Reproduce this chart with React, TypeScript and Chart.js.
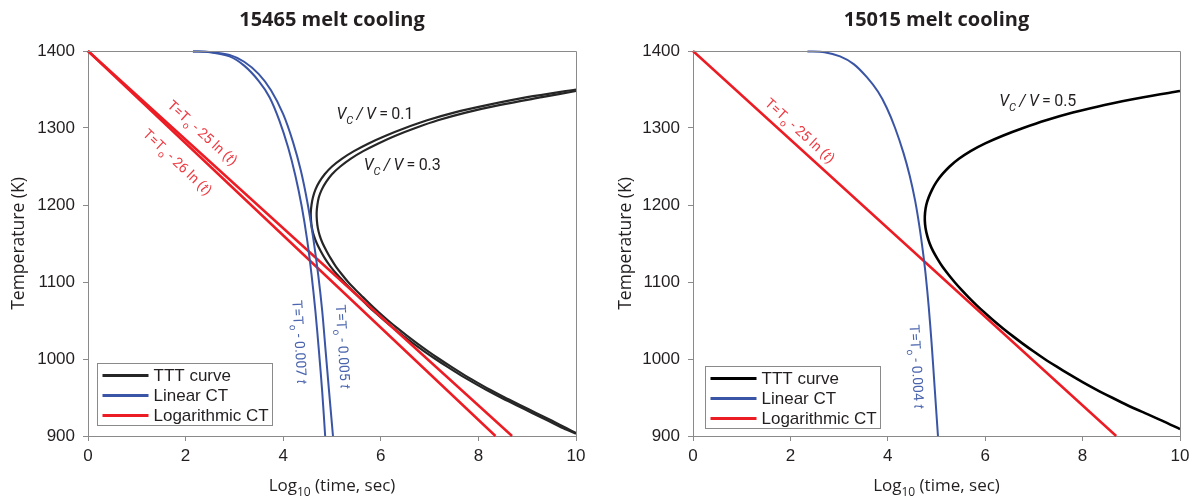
import React, { useEffect, useRef } from 'react';
import { Chart, registerables } from 'chart.js';
Chart.register(...registerables);

// ---------- tick labels ----------
const xTicks = [0, 2, 4, 6, 8, 10];
const yTicks = [900, 1000, 1100, 1200, 1300, 1400];
const legendLabels = ['TTT curve', 'Linear CT', 'Logarithmic CT'];

// ---------- left panel (15465): [log10 t, T] ----------
const left_ttt_01: [number, number][] = [
  [10, 1350], [9.0, 1340], [8.2, 1330], [7.5, 1320], [6.95, 1310], [6.5, 1300], [6.1, 1290], [5.75, 1280],
  [5.45, 1270], [5.2, 1260], [5.0, 1250], [4.85, 1240], [4.74, 1230], [4.66, 1220], [4.61, 1210], [4.58, 1200],
  [4.565, 1190], [4.57, 1180], [4.59, 1170], [4.63, 1160], [4.69, 1150], [4.77, 1140], [4.86, 1130], [4.97, 1120],
  [5.1, 1110], [5.25, 1100], [5.4, 1090], [5.56, 1080], [5.72, 1070], [5.89, 1060], [6.07, 1050], [6.26, 1040],
  [6.46, 1030], [6.67, 1020], [6.89, 1010], [7.12, 1000], [7.36, 990], [7.61, 980], [7.88, 970], [8.16, 960],
  [8.46, 950], [8.78, 940], [9.1, 930], [9.42, 920], [9.74, 910], [10, 903],
];
const left_ttt_03: [number, number][] = [
  [10, 1348], [9.3, 1340], [8.45, 1330], [7.74, 1320], [7.17, 1310], [6.71, 1300], [6.3, 1290], [5.95, 1280],
  [5.64, 1270], [5.38, 1260], [5.17, 1250], [5.0, 1240], [4.88, 1230], [4.79, 1220], [4.73, 1210], [4.7, 1200],
  [4.685, 1190], [4.69, 1180], [4.71, 1170], [4.75, 1160], [4.81, 1150], [4.89, 1140], [4.98, 1130], [5.08, 1120],
  [5.2, 1110], [5.33, 1100], [5.48, 1090], [5.64, 1080], [5.8, 1070], [5.97, 1060], [6.15, 1050], [6.34, 1040],
  [6.54, 1030], [6.75, 1020], [6.97, 1010], [7.2, 1000], [7.44, 990], [7.69, 980], [7.96, 970], [8.24, 960],
  [8.54, 950], [8.86, 940], [9.18, 930], [9.5, 920], [9.81, 910], [10, 904],
];
const left_lin_007: [number, number][] = [
  [2.15, 1399.5], [2.5, 1398.5], [2.9, 1393], [3.2, 1381], [3.5, 1361], [3.72, 1340], [3.92, 1310], [4.1, 1275],
  [4.25, 1238], [4.38, 1198], [4.49, 1155], [4.58, 1110], [4.66, 1062], [4.73, 1012], [4.8, 957], [4.86, 900],
];
const left_lin_005: [number, number][] = [
  [2.15, 1399.5], [2.5, 1398.8], [2.9, 1395], [3.2, 1386], [3.5, 1370], [3.75, 1349], [4.0, 1318], [4.2, 1282],
  [4.36, 1245], [4.5, 1202], [4.62, 1155], [4.72, 1108], [4.8, 1062], [4.87, 1010], [4.94, 958], [5.02, 900],
];
const left_log_25: [number, number][] = [[0, 1400], [8.69, 900]];
const left_log_26: [number, number][] = [[0, 1400], [8.35, 900]];

// ---------- right panel (15015) ----------
const right_ttt_05: [number, number][] = [
  [10, 1348], [9.25, 1340], [8.45, 1330], [7.8, 1320], [7.25, 1310], [6.78, 1300], [6.36, 1290], [6.0, 1280],
  [5.7, 1270], [5.46, 1260], [5.27, 1250], [5.12, 1240], [5.0, 1230], [4.91, 1220], [4.84, 1210], [4.79, 1200],
  [4.765, 1190], [4.76, 1180], [4.775, 1170], [4.81, 1160], [4.86, 1150], [4.93, 1140], [5.02, 1130], [5.12, 1120],
  [5.24, 1110], [5.37, 1100], [5.51, 1090], [5.66, 1080], [5.82, 1070], [5.99, 1060], [6.17, 1050], [6.36, 1040],
  [6.56, 1030], [6.77, 1020], [6.99, 1010], [7.22, 1000], [7.47, 990], [7.73, 980], [8.0, 970], [8.29, 960],
  [8.6, 950], [8.92, 940], [9.27, 930], [9.63, 920], [10, 909],
];
const right_lin_004: [number, number][] = [
  [2.35, 1399.5], [2.7, 1398.5], [3.02, 1393], [3.3, 1383], [3.57, 1366], [3.8, 1347], [3.98, 1326], [4.15, 1300],
  [4.32, 1268], [4.45, 1238], [4.56, 1206], [4.65, 1172], [4.72, 1140], [4.78, 1108], [4.84, 1068], [4.9, 1020],
  [4.96, 965], [5.03, 900],
];
const right_log_25: [number, number][] = [[0, 1400], [8.69, 900]];

// ---------- styles ----------
const TEXT = '#231f20';
const FRAME = '#8a8a8a';
const RED = '#ec1c24';
const RED_TXT = '#ee3a42';
const BLUE = '#3a55a5';
const BLUE_TXT = '#4a64ae';
const SANS = '"Liberation Sans", Arial, sans-serif';
const HUM = '"Open Sans", "Noto Sans", sans-serif';
const NOTE = 'Roboto, "Open Sans", sans-serif';

type Seg = { t: string; sub?: boolean; it?: boolean };
type Note = { segs: Seg[]; x: number; y: number; angle?: number; along?: number; color: string; size: number };
type Series = { data: [number, number][]; kind: 0 | 1 | 2; color: string; width: number };
type PanelDef = {
  title: string; left: number; width: number; yW: number; rightPad: number; yTitleX: number;
  series: Series[]; notes: Note[]; legend: { dx: number; gap: number }; tttColor: string;
};

const redNote = (k: string): Seg[] => [{ t: 'T=T' }, { t: 'o', sub: true }, { t: ` - ${k} ln (` }, { t: 't', it: true }, { t: ')' }];
const blueNote = (k: string): Seg[] => [{ t: 'T=T' }, { t: 'o', sub: true }, { t: ` - ${k} ` }, { t: 't', it: true }];
const vNote = (k: string): Seg[] => [{ t: 'V', it: true }, { t: 'C', sub: true, it: true }, { t: '\u2009/\u2009V', it: true }, { t: `\u2009=\u2009${k}` }];

const BLACK_L = '#262626';
const BLACK_R = '#000000';

const panels: PanelDef[] = [
  {
    title: '15465 melt cooling', left: 0, width: 600, yW: 88, rightPad: 24, yTitleX: 18, tttColor: BLACK_L,
    series: [
      { data: left_lin_007, kind: 1, color: BLUE, width: 2 },
      { data: left_lin_005, kind: 1, color: BLUE, width: 2 },
      { data: left_log_25, kind: 2, color: RED, width: 2.5 },
      { data: left_log_26, kind: 2, color: RED, width: 2.5 },
      { data: left_ttt_01, kind: 0, color: BLACK_L, width: 2.2 },
      { data: left_ttt_03, kind: 0, color: BLACK_L, width: 2.2 },
    ],
    notes: [
      { segs: redNote('25'), x: 2.35, y: 1294, along: 2, color: RED_TXT, size: 14 },
      { segs: redNote('26'), x: 1.84, y: 1256, along: 3, color: RED_TXT, size: 14 },
      { segs: blueNote('0.007'), x: 4.34, y: 1022, angle: 86.5, color: BLUE_TXT, size: 14 },
      { segs: blueNote('0.005'), x: 5.23, y: 1016, angle: 86.5, color: BLUE_TXT, size: 14 },
      { segs: vNote('0.1'), x: 5.88, y: 1319, angle: 0, color: TEXT, size: 16 },
      { segs: vNote('0.3'), x: 6.44, y: 1253, angle: 0, color: TEXT, size: 16 },
    ],
    legend: { dx: 9, gap: 11 },
  },
  {
    title: '15015 melt cooling', left: 600, width: 595, yW: 93, rightPad: 15, yTitleX: 25, tttColor: BLACK_R,
    series: [
      { data: right_lin_004, kind: 1, color: BLUE, width: 2 },
      { data: right_log_25, kind: 2, color: RED, width: 2.5 },
      { data: right_ttt_05, kind: 0, color: BLACK_R, width: 2.6 },
    ],
    notes: [
      { segs: redNote('25'), x: 2.2, y: 1297, along: 1, color: RED_TXT, size: 14 },
      { segs: blueNote('0.004'), x: 4.6, y: 990, angle: 86.5, color: BLUE_TXT, size: 14 },
      { segs: vNote('0.5'), x: 7.08, y: 1336, angle: 0, color: TEXT, size: 16 },
    ],
    legend: { dx: 12, gap: 8 },
  },
];

function drawRich(ctx: CanvasRenderingContext2D, segs: Seg[], cx: number, cy: number, angle: number, size: number, color: string, family: string) {
  ctx.save();
  ctx.translate(cx, cy);
  ctx.rotate(angle);
  ctx.fillStyle = color;
  ctx.textBaseline = 'alphabetic';
  ctx.textAlign = 'left';
  const fontOf = (s: Seg) => `${s.it ? 'italic ' : ''}${s.sub ? Math.round(size * 0.68) : size}px ${family}`;
  let total = 0;
  const ws = segs.map((s) => { ctx.font = fontOf(s); const w = ctx.measureText(s.t).width; total += w; return w; });
  let x = -total / 2;
  const base = size * 0.36;
  segs.forEach((s, i) => {
    ctx.font = fontOf(s);
    ctx.fillText(s.t, x, base + (s.sub ? size * 0.3 : 0));
    x += ws[i];
  });
  ctx.restore();
}

function makeConfig(p: PanelDef): any {
  const decor = {
    id: 'decor',
    afterDatasetsDraw(chart: any) {
      const { ctx, scales } = chart;
      const sx = scales.x, sy = scales.y;
      p.notes.forEach((n) => {
        let ang = (n.angle || 0) * Math.PI / 180;
        if (n.along !== undefined) {
          const d = p.series[n.along].data;
          const a = d[0], b = d[d.length - 1];
          ang = Math.atan2(sy.getPixelForValue(b[1]) - sy.getPixelForValue(a[1]), sx.getPixelForValue(b[0]) - sx.getPixelForValue(a[0]));
        }
        drawRich(ctx, n.segs, sx.getPixelForValue(n.x), sy.getPixelForValue(n.y), ang, n.size, n.color, NOTE);
      });
    },
    afterDraw(chart: any) {
      const { ctx, chartArea: a } = chart;
      ctx.save();
      ctx.strokeStyle = FRAME;
      ctx.lineWidth = 1;
      ctx.beginPath();
      const t = Math.round(a.top) + 0.5, r = Math.round(a.right) + 0.5;
      ctx.moveTo(Math.round(a.left), t);
      ctx.lineTo(r, t);
      ctx.lineTo(r, Math.round(a.bottom));
      ctx.stroke();
      const cx = (a.left + a.right) / 2;
      ctx.fillStyle = TEXT;
      ctx.font = `bold 20px ${HUM}`;
      ctx.textAlign = 'center';
      ctx.textBaseline = 'middle';
      ctx.fillText(p.title, cx, 20);
      drawRich(ctx, [{ t: 'Log' }, { t: '10', sub: true }, { t: ' (time, sec)' }], cx, 485, 0, 17, TEXT, HUM);
      drawRich(ctx, [{ t: 'Temperature (K)' }], p.yTitleX, (a.top + a.bottom) / 2, -Math.PI / 2, 17.5, TEXT, HUM);
      const bw = 175, bh = 62;
      const bx = Math.round(a.left + p.legend.dx) + 0.5;
      const by = Math.round(a.bottom - p.legend.gap - bh) + 0.5;
      ctx.fillStyle = '#ffffff';
      ctx.fillRect(bx, by, bw, bh);
      ctx.strokeStyle = FRAME;
      ctx.strokeRect(bx, by, bw, bh);
      const colors = [p.tttColor, BLUE, RED];
      legendLabels.forEach((lab, i) => {
        const yy = by + 12 + i * 20;
        ctx.strokeStyle = colors[i];
        ctx.lineWidth = 3;
        ctx.beginPath();
        ctx.moveTo(bx + 5, yy);
        ctx.lineTo(bx + 51, yy);
        ctx.stroke();
        ctx.fillStyle = TEXT;
        ctx.font = `17px ${SANS}`;
        ctx.textAlign = 'left';
        ctx.textBaseline = 'middle';
        ctx.fillText(lab, bx + 56, yy + 1);
      });
      ctx.restore();
    },
  };

  return {
    type: 'scatter',
    data: {
      datasets: p.series.map((s) => ({
        data: s.data.map(([x, y]) => ({ x, y })),
        showLine: true,
        borderColor: s.color,
        backgroundColor: s.color,
        borderWidth: s.width,
        pointRadius: 0,
        tension: 0.3,
        fill: false,
        clip: false,
        order: s.kind === 1 ? 0 : s.kind === 2 ? 1 : 2,
      })),
    },
    options: {
      animation: false,
      responsive: false,
      devicePixelRatio: 1,
      events: [],
      layout: { padding: { top: 51, right: p.rightPad, bottom: 0, left: 0 } },
      plugins: { legend: { display: false }, tooltip: { enabled: false }, title: { display: false } },
      scales: {
        x: {
          type: 'linear', min: 0, max: 10,
          afterBuildTicks: (s: any) => { s.ticks = xTicks.map((v) => ({ value: v })); },
          afterFit: (s: any) => { s.height = 61; },
          ticks: { font: { family: SANS, size: 17 }, color: TEXT, padding: 5, autoSkip: false, maxRotation: 0, callback: (v: any) => String(v) },
          grid: { drawOnChartArea: false, drawTicks: true, tickLength: 5, color: FRAME },
          border: { display: true, color: FRAME },
        },
        y: {
          type: 'linear', min: 900, max: 1400,
          afterBuildTicks: (s: any) => { s.ticks = yTicks.map((v) => ({ value: v })); },
          afterFit: (s: any) => { s.width = p.yW; },
          ticks: { font: { family: SANS, size: 17 }, color: TEXT, padding: 8, autoSkip: false, callback: (v: any) => String(v) },
          grid: { drawOnChartArea: false, drawTicks: true, tickLength: 5, color: FRAME },
          border: { display: true, color: FRAME },
        },
      },
    },
    plugins: [decor],
  };
}

function Panel({ p }: { p: PanelDef }) {
  const ref = useRef<HTMLCanvasElement>(null);
  useEffect(() => {
    const chart = new Chart(ref.current as HTMLCanvasElement, makeConfig(p));
    return () => chart.destroy();
  }, []);
  return (
    <canvas ref={ref} width={p.width} height={497}
      style={{ position: 'absolute', left: p.left, top: 0, width: p.width, height: 497 }} />
  );
}

export default function App() {
  return (
    <div style={{ position: 'fixed', left: 0, top: 0, width: 1195, height: 497, background: '#fff', overflow: 'hidden' }}>
      {panels.map((p) => <Panel key={p.title} p={p} />)}
    </div>
  );
}
